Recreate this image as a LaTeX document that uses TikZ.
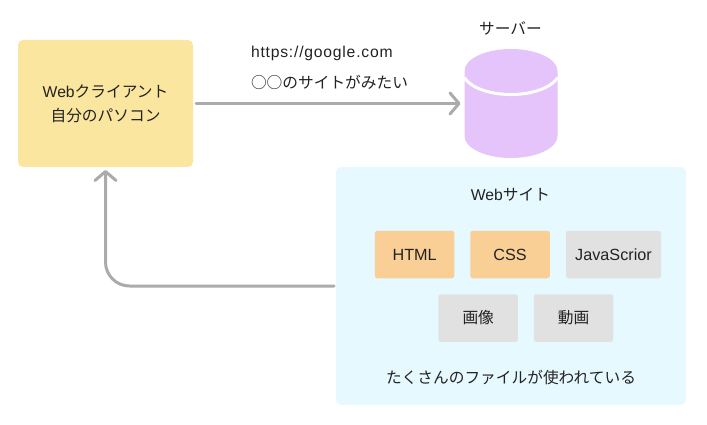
\documentclass[tikz,border=0pt]{standalone}
\usepackage{fontspec}
\setmainfont{Liberation Sans}
\newfontfamily\cjk{Noto Sans CJK JP}
\usetikzlibrary{arrows.meta}
\definecolor{ink}{HTML}{222222}
\definecolor{conncol}{HTML}{ABABAB}
\definecolor{orangefill}{HTML}{F9CF96}
\definecolor{grayfill}{HTML}{E1E1E1}
\definecolor{yellowfill}{HTML}{FBE69F}
\definecolor{bluefill}{HTML}{E5F9FF}
\definecolor{purplefill}{HTML}{E4C4FB}
\tikzset{
  x=1pt,y=-1pt,
  every node/.style={text=ink,font=\fontsize{15.7}{24}\selectfont,inner sep=0pt,outer sep=0pt},
  card/.style={rounded corners=2.5pt,minimum height=47.5pt,align=center},
  orangecard/.style={card,fill=orangefill},
  graycard/.style={card,fill=grayfill},
  latincard/.style={font=\fontsize{16.2}{24}\selectfont},
  conn/.style={draw=conncol,line width=3pt,line cap=round,-{Straight Barb[length=9pt,width=21pt,line width=3pt,round]}},
}
\begin{document}
\begin{tikzpicture}
\useasboundingbox (0,0) rectangle (707,425);
\node[fill=yellowfill,rounded corners=5pt,minimum width=175pt,minimum height=127pt,align=center] (client) at (105.5,103.5) {Web{\cjk クライアント}\\{\cjk 自分のパソコン}};
\node[fill=bluefill,rounded corners=6pt,minimum width=350pt,minimum height=238pt] (site) at (511,286) {};
\node[minimum width=93pt,minimum height=109pt] (server) at (511,103.5) {};
\fill[purplefill] ([yshift=-22pt]server.north west) arc[x radius=46.5,y radius=22,start angle=180,end angle=360] -- ([yshift=22pt]server.south east) arc[x radius=46.5,y radius=22,start angle=0,end angle=180] -- cycle;
\draw[white,line width=3pt] ([yshift=-28.7pt]server.north west) arc[x radius=48.5,y radius=23.5,start angle=163.5,end angle=16.5];
\node (servertitle) at (510.5,28) {\cjk サーバー};
\node[anchor=west] (url) at (251,53) {\addfontfeature{LetterSpace=5}https://google.com};
\node[anchor=west] (want) at (251,82) {\cjk ○○のサイトがみたい};
\node (sitetitle) at (510.5,195) {Web{\cjk サイト}};
\node[orangecard,latincard,minimum width=79.5pt] (html) at (414.7,254.5) {HTML};
\node[orangecard,latincard,minimum width=79.5pt] (css) at (510,254.5) {CSS};
\node[graycard,latincard,minimum width=95pt] (js) at (613.5,254.5) {JavaScrior};
\node[graycard,minimum width=79.5pt] (image) at (478.2,318) {\cjk 画像};
\node[graycard,minimum width=79.5pt] (video) at (573.5,318) {\cjk 動画};
\node (caption) at (511,378) {\cjk たくさんのファイルが使われている};
\draw[conn,shorten <=3pt,shorten >=4pt] (client.east) -- (server.west);
\draw[conn,rounded corners=24pt,shorten <=2pt,shorten >=3pt] (site.west) -| (client.south);
\end{tikzpicture}
\end{document}
